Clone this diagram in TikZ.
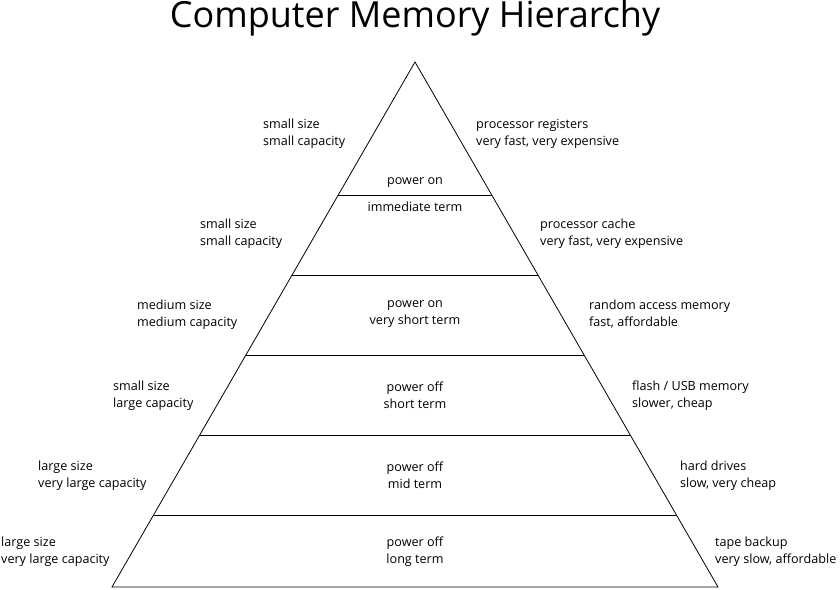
\documentclass[tikz,border=0pt]{standalone}
\usepackage{fontspec}
\setmainfont{Open Sans}
\usetikzlibrary{calc}
\tikzset{
    %Define style for side labels
    side/.style={
           anchor=west,
           align=left,
           inner sep=0pt,
           font=\fontsize{12.6}{17}\selectfont},
    % Define style for middle labels
    mid/.style={
           align=center,
           inner sep=0pt,
           font=\fontsize{12.6}{17}\selectfont},
    % Define level line style
    lvl/.style={
           thick}
}
\begin{document}
\begin{tikzpicture}[x=1pt,y=-1pt]
\useasboundingbox[fill=white] (0,0) rectangle (840,589);
%Triangle
\coordinate (apex) at (415,62);
\coordinate (bl) at (112,587);
\coordinate (br) at (718,587);
\draw[lvl] (bl) -- (apex) -- (br) -- cycle;
\foreach \t [count=\i] in {0.2533,0.4057,0.5581,0.7105,0.8629}
  \draw[lvl] ($(apex)!\t!(bl)$) coordinate (l\i) -- ($(apex)!\t!(br)$) coordinate (r\i);
%Title
\node (title) at (415,18) {\fontsize{36}{42}\selectfont Computer Memory Hierarchy};
%Middle labels
\node[mid] (m1a) at (415,183) {power on};
\node[mid] (m1b) at (415,207) {immediate term};
\node[mid] (m2) at (415,314.5) {power on\\very short term};
\node[mid] (m3) at (415,395.5) {power off\\short term};
\node[mid] (m4) at (415,475.5) {power off\\mid term};
\node[mid] (m5) at (415,551.5) {power off\\long term};
%Left labels
\node[side] (s0) at (263,133.5) {small size\\small capacity};
\node[side] (s1) at (200,233.5) {small size\\small capacity};
\node[side] (s2) at (137,314.5) {medium size\\medium capacity};
\node[side] (s3) at (113,395.5) {small size\\large capacity};
\node[side] (s4) at (38,475.5) {large size\\very large capacity};
\node[side] (s5) at (1,551.5) {large size\\very large capacity};
%Right labels
\node[side] (p0) at (476,133.5) {processor registers\\very fast, very expensive};
\node[side] (p1) at (540,233.5) {processor cache\\very fast, very expensive};
\node[side] (p2) at (589,314.5) {random access memory\\fast, affordable};
\node[side] (p3) at (632,395.5) {flash / USB memory\\slower, cheap};
\node[side] (p4) at (680,475.5) {hard drives\\slow, very cheap};
\node[side] (p5) at (715,551.5) {tape backup\\very slow, affordable};
\end{tikzpicture}
\end{document}
